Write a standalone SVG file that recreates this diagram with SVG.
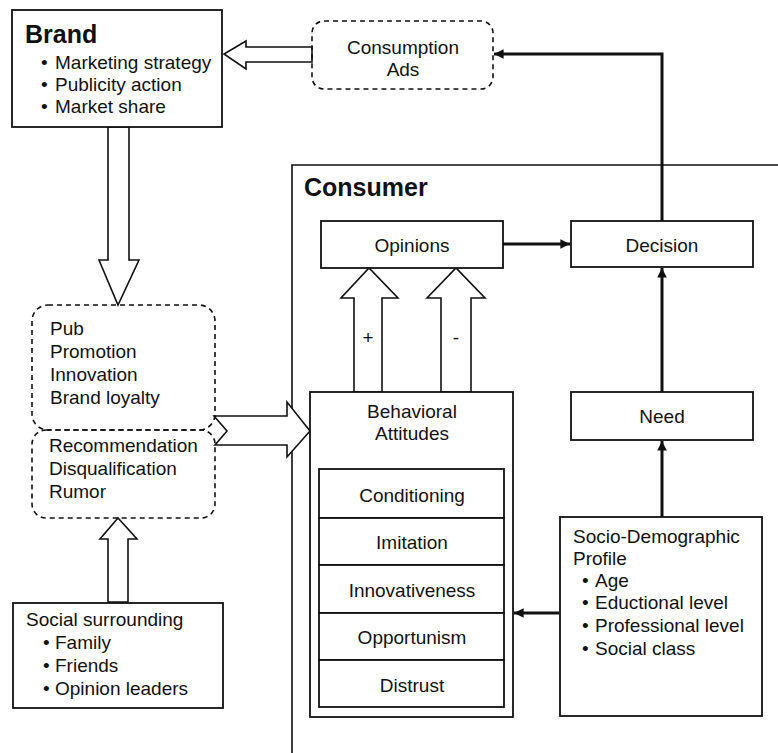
<svg xmlns="http://www.w3.org/2000/svg" width="778" height="753" viewBox="0 0 778 753">
  <defs>
    <style>
      text { font-family: "Liberation Sans", Arial, sans-serif; font-size: 19px; fill: #111; }
      .title { font-weight: bold; font-size: 25px; }
      .mid { text-anchor: middle; }
      .box { fill: #fff; stroke: #111; stroke-width: 1.8; }
      .dash { fill: none; stroke: #111; stroke-width: 1.6; stroke-dasharray: 5 4; }
      .hollow { fill: #fff; stroke: #111; stroke-width: 1.6; stroke-linejoin: miter; }
      .frame { fill: none; stroke: #111; stroke-width: 1.6; }
      .link { fill: none; stroke: #111; stroke-width: 3; }
    </style>
    <marker id="head" viewBox="0 0 10 10" refX="10" refY="5" markerWidth="3.2" markerHeight="3.2" orient="auto" markerUnits="strokeWidth">
      <path d="M0,0 L10,5 L0,10 z" fill="#111"/>
    </marker>
  </defs>

  <!-- Consumer frame -->
  <g id="consumer-frame">
    <path class="frame" d="M292,753 V165 H778"/>
    <text class="title" x="304" y="196">Consumer</text>
  </g>

  <!-- Hollow block arrows and thin connectors -->
  <g id="connectors">
    <!-- Consumption Ads -> Brand -->
    <polygon class="hollow" points="312,47 246,47 246,41 224,54 246,69 246,62 312,62"/>
    <!-- Brand -> Pub box -->
    <polygon class="hollow" points="108,127 108,260 99,260 118,305 139,260 129,260 129,127"/>
    <!-- Social surrounding -> Recommendation box -->
    <polygon class="hollow" points="108,602 108,539 100,539 118,518 137,539 128,539 128,602"/>
    <!-- Brand/social influence -> Behavioral Attitudes -->
    <polygon class="hollow" points="214,416 287,416 287,402 310,431 287,457 287,445 215,445 227,431"/>
    <!-- Behavioral Attitudes -> Opinions (+ and -) -->
    <polygon class="hollow" points="354,392 354,298 341,298 369,268 398,298 382,298 382,392"/>
    <polygon class="hollow" points="441,392 441,298 427,298 456,268 485,298 471,298 471,392"/>
    <text class="mid" x="368" y="344">+</text>
    <text class="mid" x="456" y="344">-</text>

    <!-- Opinions -> Decision -->
    <line class="link" x1="503" y1="244" x2="570" y2="244" marker-end="url(#head)"/>
    <!-- Decision -> Consumption Ads -->
    <path class="link" d="M662,221 V54 H494" marker-end="url(#head)"/>
    <!-- Need -> Decision -->
    <line class="link" x1="662" y1="392" x2="662" y2="268" marker-end="url(#head)"/>
    <!-- Socio-Demographic Profile -> Need -->
    <line class="link" x1="662" y1="517" x2="662" y2="441" marker-end="url(#head)"/>
    <!-- Socio-Demographic Profile -> Behavioral Attitudes -->
    <line class="link" x1="559" y1="613" x2="514" y2="613" marker-end="url(#head)"/>
  </g>

  <g id="brand">
    <rect class="box" x="12" y="10" width="210" height="117"/>
    <text class="title" x="25" y="43">Brand</text>
    <text x="41" y="69">•</text><text x="55" y="69">Marketing strategy</text>
    <text x="41" y="91">•</text><text x="55" y="91">Publicity action</text>
    <text x="41" y="113">•</text><text x="55" y="113">Market share</text>
  </g>

  <g id="consumption-ads">
    <rect class="dash" x="312" y="21" width="181" height="68" rx="12"/>
    <text class="mid" x="403" y="54">Consumption</text>
    <text class="mid" x="403" y="76">Ads</text>
  </g>

  <g id="brand-levers">
    <rect class="dash" x="32" y="305" width="183" height="125" rx="16"/>
    <text x="50" y="335">Pub</text>
    <text x="50" y="358">Promotion</text>
    <text x="50" y="381">Innovation</text>
    <text x="50" y="404">Brand loyalty</text>
  </g>

  <g id="word-of-mouth">
    <rect class="dash" x="32" y="430" width="183" height="88" rx="14"/>
    <text x="49" y="452">Recommendation</text>
    <text x="49" y="475">Disqualification</text>
    <text x="49" y="498">Rumor</text>
  </g>

  <g id="social-surrounding">
    <rect class="box" x="13" y="603" width="210" height="105"/>
    <text x="26" y="626">Social surrounding</text>
    <text x="43" y="649">•</text><text x="55" y="649">Family</text>
    <text x="43" y="672">•</text><text x="55" y="672">Friends</text>
    <text x="43" y="695">•</text><text x="55" y="695">Opinion leaders</text>
  </g>

  <g id="opinions">
    <rect class="box" x="321" y="221" width="182" height="47"/>
    <text class="mid" x="412" y="252">Opinions</text>
  </g>

  <g id="decision">
    <rect class="box" x="571" y="221" width="182" height="46"/>
    <text class="mid" x="662" y="252">Decision</text>
  </g>

  <g id="behavioral-attitudes">
    <rect class="box" x="310" y="392" width="203" height="325"/>
    <text class="mid" x="412" y="418">Behavioral</text>
    <text class="mid" x="412" y="440">Attitudes</text>
    <rect class="box" x="319" y="469" width="185" height="49"/>
    <rect class="box" x="319" y="518" width="185" height="47"/>
    <rect class="box" x="319" y="565" width="185" height="48"/>
    <rect class="box" x="319" y="613" width="185" height="47"/>
    <rect class="box" x="319" y="660" width="185" height="47"/>
    <text class="mid" x="412" y="502">Conditioning</text>
    <text class="mid" x="412" y="549">Imitation</text>
    <text class="mid" x="412" y="597">Innovativeness</text>
    <text class="mid" x="412" y="644">Opportunism</text>
    <text class="mid" x="412" y="692">Distrust</text>
  </g>

  <g id="need">
    <rect class="box" x="571" y="392" width="182" height="48"/>
    <text class="mid" x="662" y="423">Need</text>
  </g>

  <g id="socio-demographic">
    <rect class="box" x="560" y="517" width="202" height="199"/>
    <text x="573" y="543">Socio-Demographic</text>
    <text x="573" y="565">Profile</text>
    <text x="582" y="587">•</text><text x="595" y="587">Age</text>
    <text x="582" y="609">•</text><text x="595" y="609">Eductional level</text>
    <text x="582" y="632">•</text><text x="595" y="632">Professional level</text>
    <text x="582" y="655">•</text><text x="595" y="655">Social class</text>
  </g>
</svg>
